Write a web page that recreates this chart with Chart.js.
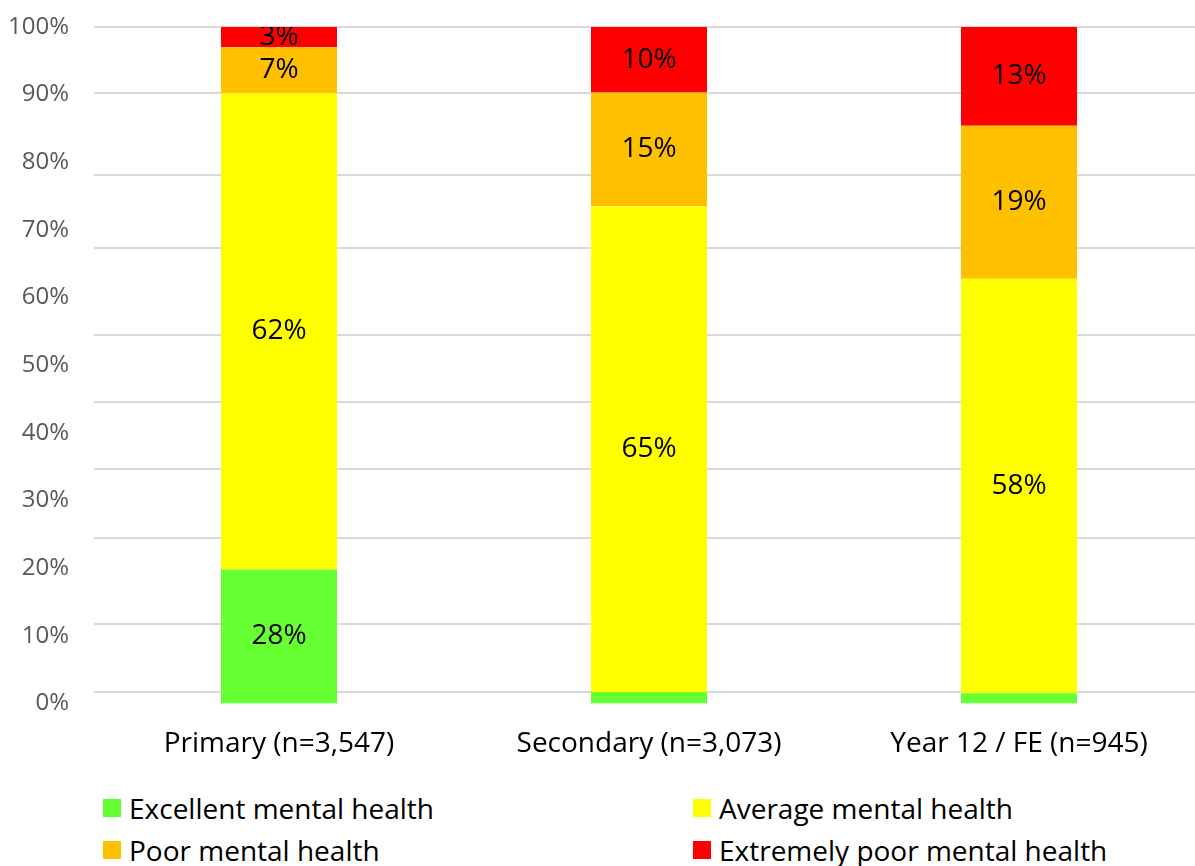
<!DOCTYPE html>
<html>
<head>
<meta charset="utf-8">
<title>Mental health by school phase</title>
<script src="https://cdn.jsdelivr.net/npm/chart.js@4.4.1/dist/chart.umd.min.js"></script>
<style>
  html, body { margin: 0; padding: 0; background: #fff; overflow: hidden; }
  body { width: 1195px; height: 866px; position: relative; font-family: "Open Sans", sans-serif; }
  .chart-box { position: absolute; left: 0; top: 0; width: 1204px; height: 780px; }
  #legend {
    position: absolute; left: 103px; top: 787px;
    display: grid; grid-template-columns: 590px 590px; grid-auto-rows: 42px;
  }
  .legend-item { display: flex; align-items: center; font-size: 28px; color: #000; white-space: nowrap; }
  .legend-box { width: 18px; height: 18px; margin-right: 8px; flex: none; }
</style>
</head>
<body>
<div class="chart-box"><canvas id="chart"></canvas></div>
<div id="legend"></div>
<script>
const categories = ['Primary (n=3,547)', 'Secondary (n=3,073)', 'Year 12 / FE (n=945)'];

// segment heights as drawn against the % axis
const excellent = [19.8, 1.7, 1.5];
const average = [70.4, 71.8, 61.3];
const poor = [6.8, 16.8, 22.6];
const extremelyPoor = [3.0, 9.7, 14.6];

// printed labels inside the segments
const excellentLabels = ['28%', '', ''];
const averageLabels = ['62%', '65%', '58%'];
const poorLabels = ['7%', '15%', '19%'];
const extremelyPoorLabels = ['3%', '10%', '13%'];

// where the horizontal gridlines sit on the % axis
const gridLines = [1.7, 11.7, 24.5, 34.6, 44.5, 54.4, 67.4, 78.1, 90.2, 100];

Chart.defaults.font.family = '"Open Sans", sans-serif';

const segmentLabels = {
  id: 'segmentLabels',
  afterDatasetsDraw(chart) {
    const { ctx } = chart;
    ctx.save();
    ctx.font = '28px "Open Sans", sans-serif';
    ctx.fillStyle = '#000';
    ctx.textAlign = 'center';
    ctx.textBaseline = 'middle';
    chart.data.datasets.forEach((ds, i) => {
      const meta = chart.getDatasetMeta(i);
      meta.data.forEach((bar, j) => {
        const text = ds.valueLabels[j];
        if (!text) return;
        const { x, y, base, width } = bar.getProps(['x', 'y', 'base', 'width'], true);
        ctx.save();
        ctx.beginPath();
        ctx.rect(x - width / 2, y, width, base - y);
        ctx.clip();
        ctx.fillText(text, x, (y + base) / 2);
        ctx.restore();
      });
    });
    ctx.restore();
  }
};

const ctx = document.getElementById('chart').getContext('2d');
const chart = new Chart(ctx, {
  type: 'bar',
  data: {
    labels: categories,
    datasets: [
      { label: 'Excellent mental health', data: excellent, valueLabels: excellentLabels, backgroundColor: '#66FF33' },
      { label: 'Average mental health', data: average, valueLabels: averageLabels, backgroundColor: '#FFFF00' },
      { label: 'Poor mental health', data: poor, valueLabels: poorLabels, backgroundColor: '#FFC000' },
      { label: 'Extremely poor mental health', data: extremelyPoor, valueLabels: extremelyPoorLabels, backgroundColor: '#FF0000' },
    ],
  },
  options: {
    responsive: true,
    maintainAspectRatio: false,
    animation: false,
    layout: { padding: { top: 27, bottom: 16.5, left: 0, right: 0 } },
    datasets: {
      bar: { categoryPercentage: 1, barPercentage: 0.3135 },
    },
    plugins: {
      legend: { display: false },
      tooltip: { enabled: false },
    },
    scales: {
      x: {
        stacked: true,
        grid: { display: false },
        border: { display: false },
        ticks: { color: '#000', font: { size: 28 }, padding: 16, maxRotation: 0, autoSkip: false },
        afterFit: (axis) => { axis.height = 60; },
      },
      y: {
        stacked: true,
        min: 0,
        max: 100,
        grid: { display: false, drawTicks: false },
        border: { display: false },
        ticks: {
          stepSize: 10,
          color: '#595959',
          font: { size: 24 },
          padding: 25,
          callback: (value) => `${value}%`,
        },
        afterFit: (axis) => {
          axis.width = 94;
          // the big tick padding shouldn't push the plot down
          axis.paddingTop = 0;
          axis.paddingBottom = 0;
        },
      },
      yGrid: {
        position: 'right',
        min: 0,
        max: 100,
        afterBuildTicks: (axis) => { axis.ticks = gridLines.map((v) => ({ value: v })); },
        afterFit: (axis) => { axis.width = 0; },
        ticks: { display: false },
        grid: { color: '#D9D9D9', lineWidth: 2, drawTicks: false },
        border: { display: false },
      },
    },
  },
  plugins: [segmentLabels],
});

// two-column legend under the chart
const legendEl = document.getElementById('legend');
chart.data.datasets.forEach((ds) => {
  const item = document.createElement('div');
  item.className = 'legend-item';
  const box = document.createElement('span');
  box.className = 'legend-box';
  box.style.background = ds.backgroundColor;
  item.appendChild(box);
  item.appendChild(document.createTextNode(ds.label));
  legendEl.appendChild(item);
});
</script>
</body>
</html>
